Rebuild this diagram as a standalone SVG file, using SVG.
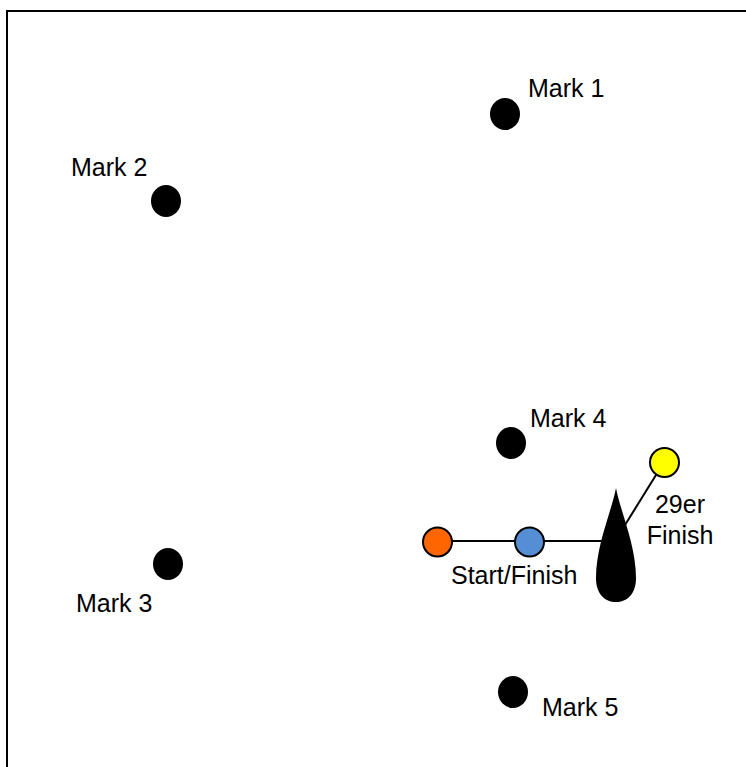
<svg xmlns="http://www.w3.org/2000/svg" width="746" height="767" viewBox="0 0 746 767">
<style>
.lbl{font-family:"Liberation Sans",Arial,sans-serif;font-size:25px;fill:#000}
.mark{fill:#000}
.buoy{stroke:#000;stroke-width:2}
.ln{stroke:#000;stroke-width:2;fill:none}
</style>
<rect x="0" y="0" width="746" height="767" fill="#fff"/>
<rect x="7" y="11" width="760" height="780" fill="none" stroke="#000" stroke-width="2"/>
<g id="connectors">
<line class="ln" x1="452" y1="541" x2="515" y2="541"/>
<line class="ln" x1="544" y1="541" x2="605" y2="541"/>
<line class="ln" x1="656" y1="475" x2="625" y2="525"/>
</g>
<g id="mark1"><ellipse class="mark" cx="505" cy="114" rx="15" ry="16"/><text class="lbl" x="528" y="97">Mark 1</text></g>
<g id="mark2"><ellipse class="mark" cx="166" cy="201" rx="15" ry="16"/><text class="lbl" x="71" y="176">Mark 2</text></g>
<g id="mark3"><ellipse class="mark" cx="168" cy="564" rx="15" ry="16"/><text class="lbl" x="76" y="612">Mark 3</text></g>
<g id="mark4"><ellipse class="mark" cx="511" cy="443" rx="15" ry="16"/><text class="lbl" x="530" y="427">Mark 4</text></g>
<g id="mark5"><ellipse class="mark" cx="513" cy="692" rx="15" ry="16"/><text class="lbl" x="542" y="716">Mark 5</text></g>
<g id="pin-orange"><circle class="buoy" cx="437.5" cy="542" r="14.5" fill="#ff6600"/></g>
<g id="pin-blue"><circle class="buoy" cx="529.5" cy="542" r="14.5" fill="#558ed5"/><text class="lbl" x="451" y="584">Start/Finish</text></g>
<g id="committee-boat"><path class="mark" d="M616 488 C612 510 596 545 596 578 C596 594 605 602 616 602 C627 602 636 594 636 578 C636 545 620 510 616 488 Z"/></g>
<g id="pin-yellow"><circle class="buoy" cx="664.5" cy="462.5" r="14.5" fill="#ffff00"/><text class="lbl" x="680" y="513" text-anchor="middle">29er</text><text class="lbl" x="680" y="544" text-anchor="middle">Finish</text></g>
</svg>
